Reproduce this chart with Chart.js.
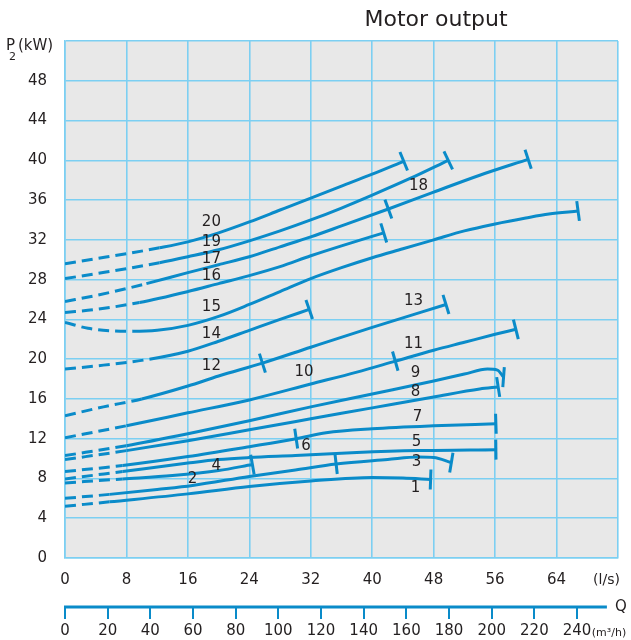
<!DOCTYPE html>
<html>
<head>
<meta charset="utf-8">
<script src="https://cdn.jsdelivr.net/npm/chart.js@4.4.1/dist/chart.umd.min.js"></script>
<style>
  html, body { margin: 0; padding: 0; background: #fff; }
</style>
</head>
<body>
<canvas id="chart" width="631" height="640"></canvas>
<script>
// axes
const flowMax = 72;          // l/s, right edge of the grid
const powerMax = 52;         // kW, top edge of the grid
const flowStep = 8;
const powerStep = 4;
const m3hTicks = [0, 20, 40, 60, 80, 100, 120, 140, 160, 180, 200, 220, 240];

// curves, [Q l/s, P2 kW]
const c20 = [[0, 29.6], [4, 30.1], [8, 30.6], [12.3, 31.2], [16, 31.8], [20, 32.7], [24, 33.8], [28, 35.0], [32, 36.2], [36, 37.4], [40, 38.6], [44.1, 39.9]];
const c19 = [[0, 28.1], [4, 28.6], [8, 29.1], [12.3, 29.7], [16, 30.3], [20, 31.0], [24, 31.9], [28, 32.9], [32, 34.0], [36, 35.2], [40, 36.5], [45, 38.2], [49.9, 40.0]];
const c17 = [[0, 25.8], [4, 26.4], [8, 27.1], [10.6, 27.6], [16, 28.7], [20, 29.5], [24, 30.3], [28, 31.3], [32, 32.3], [36, 33.4], [42.1, 35.1], [48, 36.8], [54, 38.5], [60.3, 40.1]];
const c16 = [[0, 24.7], [4, 25.0], [9.7, 25.7], [16, 26.8], [20, 27.6], [24, 28.4], [28, 29.3], [32, 30.4], [36, 31.4], [41.5, 32.7]];
const c15 = [[0, 23.7], [3, 23.1], [6, 22.85], [8.8, 22.8], [12, 22.9], [16, 23.4], [20, 24.3], [24, 25.5], [28, 26.8], [32, 28.1], [36, 29.2], [40, 30.2], [44, 31.1], [48, 32.0], [52, 32.9], [56, 33.6], [60, 34.2], [63, 34.6], [66.8, 34.9]];
const c14 = [[0, 19.0], [5, 19.4], [11, 20.0], [16, 20.8], [20, 21.8], [24, 22.9], [28, 24.0], [31.8, 25.0]];
const c12 = [[0, 14.3], [5, 15.2], [10, 16.0], [16, 17.3], [20, 18.3], [25.7, 19.6], [32, 21.2], [40, 23.2], [49.6, 25.5]];
const c10 = [[0, 12.1], [8, 13.3], [16, 14.6], [24, 15.9], [32, 17.5], [38, 18.7], [43, 19.8], [48, 20.9], [52, 21.7], [56, 22.5], [58.7, 23.0]];
const c9 = [[0, 10.3], [8, 11.3], [16, 12.5], [24, 13.8], [32, 15.2], [40, 16.5], [48, 17.8], [52, 18.5], [55, 19.0], [56.3, 18.9], [57.1, 18.2]];
const c8 = [[0, 9.9], [8, 10.8], [16, 11.8], [24, 12.9], [32, 14.0], [40, 15.1], [48, 16.2], [54, 17.0], [56.4, 17.2]];
const c6 = [[0, 8.7], [7.5, 9.3], [16, 10.2], [24, 11.2], [30.1, 12.0], [34, 12.6], [40, 13.0], [48, 13.3], [56.1, 13.5]];
const c5 = [[0, 7.95], [7.5, 8.7], [16, 9.55], [20, 9.9], [24, 10.1], [30, 10.3], [38, 10.6], [46, 10.8], [56.1, 10.9]];
const c4 = [[0, 7.55], [7.5, 7.95], [14, 8.3], [20, 8.8], [24.4, 9.4]];
const c2 = [[0, 6.0], [5.8, 6.4], [12, 6.9], [16.6, 7.3], [24, 8.2], [30, 8.85], [35.3, 9.45], [42, 9.9], [46, 10.15], [48, 10.1], [50.3, 9.6]];
const c1 = [[0, 5.2], [5.8, 5.65], [16, 6.45], [24, 7.2], [32, 7.75], [40, 8.1], [44, 8.05], [47.6, 7.9]];

// where the dashed start of each curve ends, and where its tick marks sit
const dashEnds = { c20: 12.3, c19: 12.3, c17: 10.6, c16: 9.7, c15: 8.8, c14: 11, c12: 10, c10: 8, c9: 8, c8: 8, c6: 7.5, c5: 7.5, c4: 7.5, c2: 5.8, c1: 5.8 };
const tickXs = {
  c20: [44.1], c19: [49.9], c17: [42.1, 60.3], c16: [41.5], c15: [66.8], c14: [31.8],
  c12: [25.7, 49.6], c10: [43, 58.7], c9: [57.1], c8: [56.4], c6: [30.1, 56.1],
  c5: [56.1], c4: [24.4], c2: [35.3, 50.3], c1: [47.6]
};

// curve numbers [text, Q, P2]
const curveLabels = [
  ['20', 19.06, 33.75], ['19', 19.06, 31.74], ['17', 19.06, 30.03], ['16', 19.06, 28.31],
  ['15', 19.06, 25.19], ['14', 19.06, 22.47], ['12', 19.06, 19.35], ['10', 31.12, 18.74],
  ['13', 45.38, 25.79], ['11', 45.38, 21.56], ['18', 46.03, 37.38], ['9', 45.64, 18.64],
  ['8', 45.64, 16.73], ['7', 45.9, 14.21], ['5', 45.77, 11.69], ['3', 45.77, 9.67],
  ['1', 45.64, 7.05], ['6', 31.38, 11.28], ['4', 19.71, 9.27], ['2', 16.6, 7.96]
];

const BLUE = '#0a8bc9';
const GRID = '#7ccff2';
const TEXT = '#231f20';
const FONT = "'DejaVu Sans', sans-serif";

const curves = { c20, c19, c17, c16, c15, c14, c12, c10, c9, c8, c6, c5, c4, c2, c1 };

const datasets = Object.keys(curves).map(key => {
  const dashTo = dashEnds[key];
  return {
    label: key,
    data: curves[key].map(p => ({ x: p[0], y: p[1] })),
    borderColor: BLUE,
    borderWidth: 3,
    pointRadius: 0,
    fill: false,
    cubicInterpolationMode: 'monotone',
    xAxisID: 'x',
    yAxisID: 'y',
    segment: {
      borderDash: ctx => (ctx.p1.parsed.x <= dashTo + 1e-6 ? [11, 6] : undefined)
    }
  };
});

const plotBg = {
  id: 'plotBg',
  beforeDraw(chart) {
    const { ctx, chartArea: a } = chart;
    ctx.save();
    ctx.fillStyle = '#e8e8e8';
    ctx.fillRect(a.left, a.top, a.right - a.left, a.bottom - a.top);
    ctx.restore();
  }
};

// short marks across the curves where a pump's range ends
const curveTicks = {
  id: 'curveTicks',
  afterDatasetsDraw(chart) {
    const { ctx } = chart;
    const xs = chart.scales.x, ys = chart.scales.y;
    ctx.save();
    ctx.strokeStyle = BLUE;
    ctx.lineWidth = 3;
    Object.keys(curves).forEach(key => {
      const pts = curves[key];
      tickXs[key].forEach(tx => {
        const i = pts.findIndex(p => Math.abs(p[0] - tx) < 1e-6);
        if (i < 0) return;
        let a = i, b = i;
        while (a > 0 && pts[i][0] - pts[a][0] < 4) a--;
        while (b < pts.length - 1 && pts[b][0] - pts[i][0] < 4) b++;
        const x0 = xs.getPixelForValue(pts[a][0]), y0 = ys.getPixelForValue(pts[a][1]);
        const x1 = xs.getPixelForValue(pts[b][0]), y1 = ys.getPixelForValue(pts[b][1]);
        const len = Math.hypot(x1 - x0, y1 - y0);
        const nx = -(y1 - y0) / len, ny = (x1 - x0) / len;
        const px = xs.getPixelForValue(pts[i][0]), py = ys.getPixelForValue(pts[i][1]);
        ctx.beginPath();
        ctx.moveTo(px - nx * 10, py - ny * 10);
        ctx.lineTo(px + nx * 10, py + ny * 10);
        ctx.stroke();
      });
    });
    ctx.restore();
  }
};

const texts = {
  id: 'texts',
  afterDraw(chart) {
    const { ctx } = chart;
    const xs = chart.scales.x, ys = chart.scales.y, q = chart.scales.q;
    ctx.save();
    ctx.fillStyle = TEXT;
    ctx.textAlign = 'center';
    ctx.textBaseline = 'middle';
    ctx.font = '15px ' + FONT;
    curveLabels.forEach(([t, x, y]) => {
      ctx.fillText(t, xs.getPixelForValue(x), ys.getPixelForValue(y));
    });

    // title
    ctx.font = '22px ' + FONT;
    ctx.fillText('Motor output', 436, 20);

    // P2(kW)
    ctx.textAlign = 'left';
    ctx.font = '15px ' + FONT;
    ctx.fillText('P', 6, 46);
    ctx.fillText('(kW)', 18, 46);
    ctx.font = '11px ' + FONT;
    ctx.fillText('2', 9, 57);

    // (l/s)
    ctx.textAlign = 'center';
    ctx.font = '14px ' + FONT;
    ctx.fillText('(l/s)', xs.getPixelForValue(70.5), 580);

    // Q axis line, Q and (m3/h)
    const yq = q.top;
    ctx.strokeStyle = BLUE;
    ctx.lineWidth = 3;
    ctx.beginPath();
    ctx.moveTo(q.getPixelForValue(0) - 1, yq);
    ctx.lineTo(q.getPixelForValue(254), yq);
    ctx.stroke();
    ctx.font = '15px ' + FONT;
    ctx.fillText('Q', 621, yq);
    ctx.font = '11px ' + FONT;
    ctx.fillText('(m³/h)', 609, 633);
    ctx.restore();
  }
};

new Chart(document.getElementById('chart'), {
  type: 'line',
  data: { datasets },
  options: {
    responsive: false,
    animation: false,
    devicePixelRatio: 1,
    layout: { padding: { top: 41, right: 12, left: 0, bottom: 0 } },
    plugins: { legend: { display: false }, tooltip: { enabled: false } },
    elements: { line: { borderCapStyle: 'butt', borderJoinStyle: 'round' } },
    scales: {
      x: {
        type: 'linear',
        position: 'bottom',
        min: 0,
        max: flowMax,
        ticks: {
          stepSize: flowStep,
          padding: 13,
          color: TEXT,
          font: { family: FONT, size: 15 },
          maxRotation: 0,
          callback: v => (v >= flowMax ? '' : v)
        },
        grid: { color: GRID, lineWidth: 1.6, drawTicks: false },
        border: { color: GRID, width: 1.6 },
        afterFit: s => { s.height = 49; }
      },
      q: {
        type: 'linear',
        position: 'bottom',
        min: 0,
        max: flowMax * 3.6,
        afterBuildTicks: s => { s.ticks = m3hTicks.map(v => ({ value: v })); },
        ticks: {
          padding: 3,
          color: TEXT,
          font: { family: FONT, size: 15 },
          maxRotation: 0,
          autoSkip: false
        },
        grid: { drawOnChartArea: false, drawTicks: true, tickLength: 12, tickColor: BLUE, lineWidth: 2 },
        border: { display: false },
        afterFit: s => { s.height = 33; }
      },
      y: {
        type: 'linear',
        min: 0,
        max: powerMax,
        ticks: {
          stepSize: powerStep,
          padding: 18,
          color: TEXT,
          font: { family: FONT, size: 15 },
          callback: v => (v >= powerMax ? '' : v)
        },
        grid: { color: GRID, lineWidth: 1.6, drawTicks: false },
        border: { color: GRID, width: 1.6 },
        afterFit: s => { s.width = 65; }
      }
    }
  },
  plugins: [plotBg, curveTicks, texts]
});
</script>
</body>
</html>
